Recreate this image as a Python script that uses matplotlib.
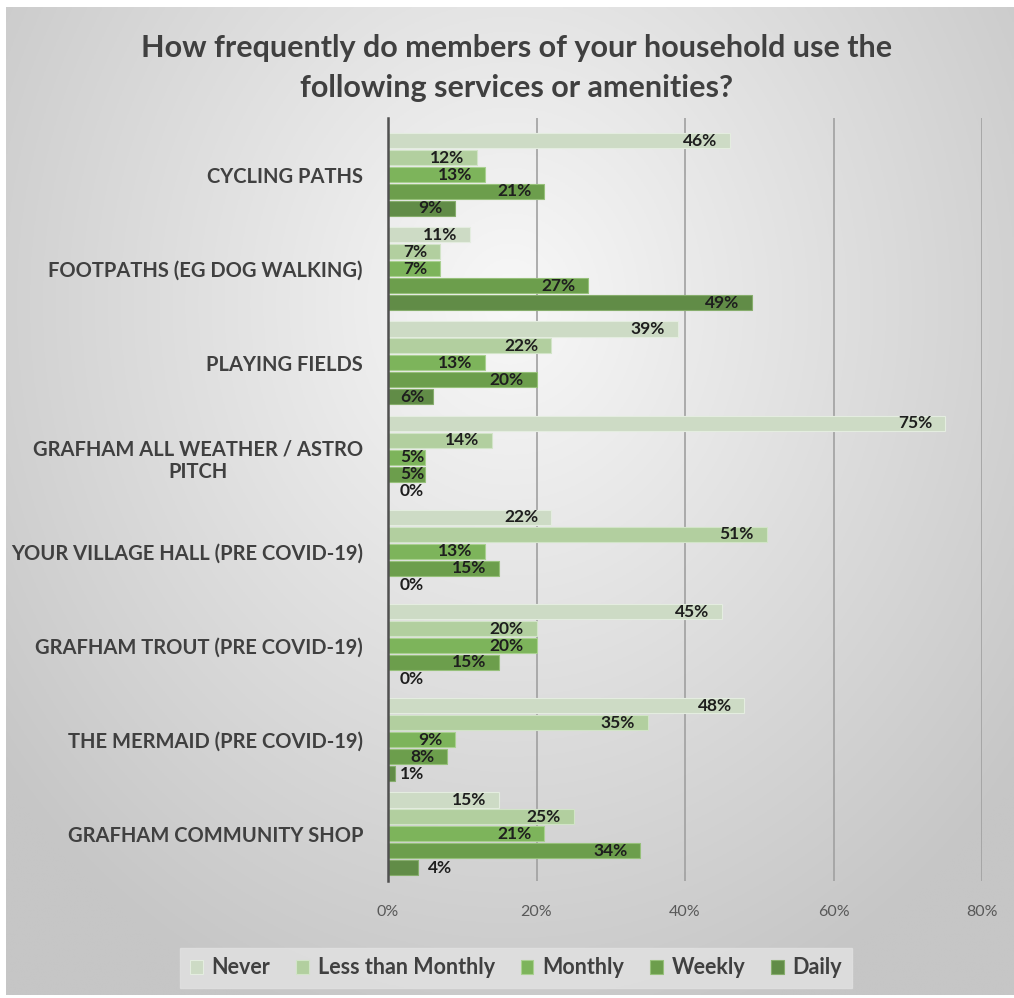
import numpy as np
import matplotlib.pyplot as plt

# categories (top to bottom) and series values, percent
categories = [
    "CYCLING PATHS",
    "FOOTPATHS (EG DOG WALKING)",
    "PLAYING FIELDS",
    "GRAFHAM ALL WEATHER / ASTRO\nPITCH",
    "YOUR VILLAGE HALL (PRE COVID-19)",
    "GRAFHAM TROUT (PRE COVID-19)",
    "THE MERMAID (PRE COVID-19)",
    "GRAFHAM COMMUNITY SHOP",
]
series_names = ["Never", "Less than Monthly", "Monthly", "Weekly", "Daily"]
never = [46, 11, 39, 75, 22, 45, 48, 15]
less_monthly = [12, 7, 22, 14, 51, 20, 35, 25]
monthly = [13, 7, 13, 5, 13, 20, 9, 21]
weekly = [21, 27, 20, 5, 15, 15, 8, 34]
daily = [9, 49, 6, 0, 0, 0, 1, 4]
x_ticks = [0, 20, 40, 60, 80]

colors = ["#cddbc5", "#b2cf9f", "#7db45b", "#6c9e4c", "#618c47"]
edges = ["#e4ede0", "#d2e4c8", "#a9d090", "#96c07a", "#86ad6c"]
text_gray = "#404040"

plt.rcParams['font.family'] = ['Lato', 'DejaVu Sans']

fig = plt.figure(figsize=(10.14, 9.98), dpi=100)
fig.patch.set_facecolor("white")

# radial gradient background of the chart area
bg = fig.add_axes([6/1014, 1-995/998, 1-6/1014, (995-7)/998])
bg.set_axis_off()
gx, gy = np.meshgrid(np.linspace(0, 1, 400), np.linspace(0, 1, 400))
r = np.sqrt(((gx-0.5)/0.8)**2 + ((gy-0.3)/0.95)**2)
g = np.clip(248 - 62*r, 198, 248)/255.0
bg.imshow(np.dstack([g, g, g]), extent=[0, 1, 1, 0], aspect='auto')
bg.set_xlim(0, 1)
bg.set_ylim(1, 0)

ax = fig.add_axes([388/1014, 1-881/998, (982-388)/1014, (881-118)/998])
ax.patch.set_alpha(0)

all_series = [never, less_monthly, monthly, weekly, daily]
y = np.arange(len(categories))
step = 0.18
for k, vals in enumerate(all_series):
    pos = y + (k-2)*step
    ax.barh(pos, vals, height=0.16, color=colors[k], edgecolor=edges[k],
            linewidth=0.8, label=series_names[k], zorder=3)
    for p, v in zip(pos, vals):
        lab = f"{v}%"
        if v >= 5:
            ax.text(max(v-1.7, 4.9), p, lab, ha='right', va='center', fontsize=12.5,
                    fontweight='bold', color="#1e1e1e", zorder=4)
        elif v <= 1:
            ax.text(1.6, p, lab, ha='left', va='center', fontsize=12.5,
                    fontweight='bold', color="#1e1e1e", zorder=4)
        else:
            ax.text(v+1.4, p, lab, ha='left', va='center', fontsize=12.5,
                    fontweight='bold', color="#1e1e1e", zorder=4)

ax.set_xlim(0, 80)
ax.set_ylim(7.5, -0.6)
ax.set_xticks(x_ticks)
ax.set_xticklabels([f"{t}%" for t in x_ticks], fontsize=11.5, color="#595959")
ax.set_yticks(y)
ax.set_yticklabels(categories, fontsize=14.5, fontweight='bold', color=text_gray,
                   multialignment='center')
ax.tick_params(axis='y', length=0, pad=18)
ax.tick_params(axis='x', length=0, pad=17)
for s in ['top', 'right', 'bottom']:
    ax.spines[s].set_visible(False)
ax.spines['left'].set_color("#505050")
ax.spines['left'].set_linewidth(1.8)
ax.spines['left'].set_zorder(5)
ax.grid(axis='x', color="#a0a0a0", linewidth=1.2, zorder=0)
ax.set_axisbelow(True)

fig.text(517/1014, 1-48/998, "How frequently do members of your household use the",
         ha='center', va='center', fontsize=22, fontweight='bold', color=text_gray)
fig.text(517/1014, 1-88/998, "following services or amenities?",
         ha='center', va='center', fontsize=22, fontweight='bold', color=text_gray)

leg = fig.legend(loc='center', bbox_to_anchor=(516/1014, 1-968/998), ncol=5,
                 frameon=True, fancybox=False, handlelength=0.6, handleheight=0.6,
                 handletextpad=0.4, columnspacing=1.2, fontsize=15.5,
                 borderpad=0.45)
leg.get_frame().set_facecolor("#e2e2e2")
leg.get_frame().set_edgecolor("#e2e2e2")
for t in leg.get_texts():
    t.set_fontweight('bold')
    t.set_color(text_gray)

fig.savefig("out.png", dpi=100)
